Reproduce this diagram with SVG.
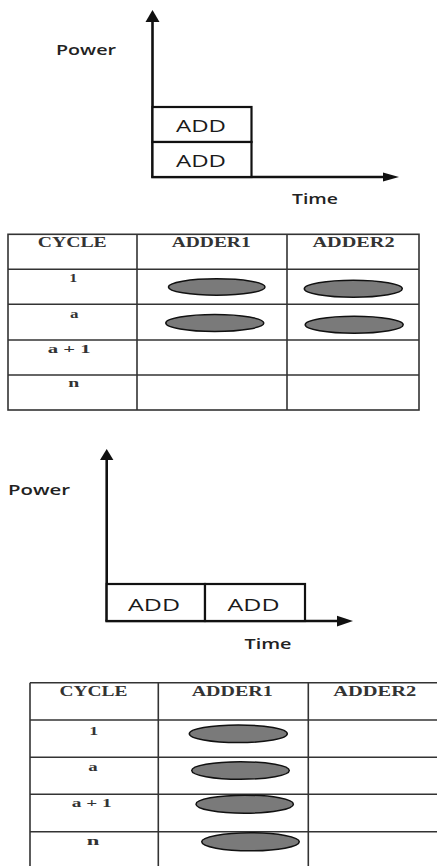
<svg xmlns="http://www.w3.org/2000/svg" width="437" height="866" viewBox="0 0 437 866">
<style>
.ax{stroke:#111;stroke-width:2.6;fill:none}
.bx{stroke:#111;stroke-width:2.2;fill:#fff}
.lbl{font-family:"Open Sans","Liberation Sans",sans-serif;font-weight:600;fill:#222;text-anchor:middle}
.add{font-family:"Open Sans","Liberation Sans",sans-serif;font-weight:500;font-size:15.5px;fill:#1a1a1a;text-anchor:middle}
.grid{stroke:#333;stroke-width:1.6;fill:none}
.th{font-family:"Liberation Serif","Times New Roman",serif;font-weight:bold;font-size:14px;fill:#333;text-anchor:middle}
.td{font-family:"Liberation Serif","Times New Roman",serif;font-weight:bold;font-size:13.5px;fill:#333;text-anchor:middle}
.ov{fill:#7a7a7a;stroke:#111;stroke-width:1.5}
.ah{fill:#111}
</style>

<!-- Chart 1 -->
<g id="chart1">
  <g id="chart1-axes">
    <line class="ax" x1="152.5" y1="20" x2="152.5" y2="177"/>
    <line class="ax" x1="151.2" y1="177" x2="384" y2="177"/>
    <polygon class="ah" points="152.5,10 145.5,22 159.5,22"/>
    <polygon class="ah" points="399,177 383,172.5 383,181.5"/>
  </g>
  <g id="chart1-add-top">
    <rect class="bx" x="152.5" y="107" width="99" height="35"/>
    <text class="add" x="201" y="132" textLength="50" lengthAdjust="spacingAndGlyphs">ADD</text>
  </g>
  <g id="chart1-add-bottom">
    <rect class="bx" x="152.5" y="142" width="99" height="35"/>
    <text class="add" x="201" y="167" textLength="50" lengthAdjust="spacingAndGlyphs">ADD</text>
  </g>
  <text class="lbl" x="86" y="55" font-size="13.5" textLength="60" lengthAdjust="spacingAndGlyphs">Power</text>
  <text class="lbl" x="315" y="204" font-size="13.5" textLength="46" lengthAdjust="spacingAndGlyphs">Time</text>
</g>

<!-- Table 1 -->
<g id="table1">
  <g id="table1-grid">
    <rect class="grid" x="8" y="234.3" width="411" height="175.7"/>
    <line class="grid" x1="137" y1="234.3" x2="137" y2="410"/>
    <line class="grid" x1="287" y1="234.3" x2="287" y2="410"/>
    <line class="grid" x1="8" y1="269.3" x2="419" y2="269.3"/>
    <line class="grid" x1="8" y1="304.3" x2="419" y2="304.3"/>
    <line class="grid" x1="8" y1="340" x2="419" y2="340"/>
    <line class="grid" x1="8" y1="375" x2="419" y2="375"/>
  </g>
  <text class="th" x="72.2" y="247" textLength="69" lengthAdjust="spacingAndGlyphs">CYCLE</text>
  <text class="th" x="211.2" y="247" textLength="79" lengthAdjust="spacingAndGlyphs">ADDER1</text>
  <text class="th" x="353.5" y="247" textLength="82" lengthAdjust="spacingAndGlyphs">ADDER2</text>
  <text class="td" x="73.3" y="282" textLength="8" lengthAdjust="spacingAndGlyphs">1</text>
  <text class="td" x="74.2" y="317.5" textLength="8.5" lengthAdjust="spacingAndGlyphs">a</text>
  <text class="td" x="69.2" y="352.7" textLength="43" lengthAdjust="spacingAndGlyphs">a + 1</text>
  <text class="td" x="73.8" y="387" textLength="11" lengthAdjust="spacingAndGlyphs">n</text>
  <g id="t1-r1-a1"><ellipse class="ov" cx="216.7" cy="287" rx="48.3" ry="8.2"/></g>
  <g id="t1-r1-a2"><ellipse class="ov" cx="353.3" cy="288.7" rx="49" ry="8.5"/></g>
  <g id="t1-r2-a1"><ellipse class="ov" cx="214.8" cy="323" rx="49" ry="8.5"/></g>
  <g id="t1-r2-a2"><ellipse class="ov" cx="354.2" cy="324.7" rx="49" ry="8.5"/></g>
</g>

<!-- Chart 2 -->
<g id="chart2">
  <g id="chart2-axes">
    <line class="ax" x1="106.7" y1="458" x2="106.7" y2="621"/>
    <line class="ax" x1="105.4" y1="621" x2="338" y2="621"/>
    <polygon class="ah" points="106.7,449 100,460 113.4,460"/>
    <polygon class="ah" points="353,621 337,615.8 337,626.5"/>
  </g>
  <g id="chart2-add-first">
    <rect class="bx" x="106.7" y="584" width="98.3" height="37"/>
    <text class="add" x="154" y="610.7" textLength="52" lengthAdjust="spacingAndGlyphs">ADD</text>
  </g>
  <g id="chart2-add-second">
    <rect class="bx" x="205" y="584" width="100" height="37"/>
    <text class="add" x="253.5" y="610.7" textLength="52" lengthAdjust="spacingAndGlyphs">ADD</text>
  </g>
  <text class="lbl" x="39" y="495" font-size="13.5" textLength="62" lengthAdjust="spacingAndGlyphs">Power</text>
  <text class="lbl" x="268" y="649" font-size="13.5" textLength="47" lengthAdjust="spacingAndGlyphs">Time</text>
</g>

<!-- Table 2 -->
<g id="table2">
  <g id="table2-grid">
    <line class="grid" x1="30" y1="682.7" x2="440" y2="682.7"/>
    <line class="grid" x1="30" y1="720" x2="440" y2="720"/>
    <line class="grid" x1="30" y1="757.3" x2="440" y2="757.3"/>
    <line class="grid" x1="30" y1="794.3" x2="440" y2="794.3"/>
    <line class="grid" x1="30" y1="831.7" x2="440" y2="831.7"/>
    <line class="grid" x1="30" y1="682.7" x2="30" y2="870"/>
    <line class="grid" x1="158.3" y1="682.7" x2="158.3" y2="870"/>
    <line class="grid" x1="308.3" y1="682.7" x2="308.3" y2="870"/>
  </g>
  <text class="th" x="93.5" y="696" textLength="68" lengthAdjust="spacingAndGlyphs">CYCLE</text>
  <text class="th" x="232.2" y="696" textLength="81" lengthAdjust="spacingAndGlyphs">ADDER1</text>
  <text class="th" x="374.7" y="696" textLength="83" lengthAdjust="spacingAndGlyphs">ADDER2</text>
  <text class="td" x="93.8" y="735" textLength="9" lengthAdjust="spacingAndGlyphs">1</text>
  <text class="td" x="93" y="771" textLength="9.4" lengthAdjust="spacingAndGlyphs">a</text>
  <text class="td" x="91.7" y="807.3" textLength="40" lengthAdjust="spacingAndGlyphs">a + 1</text>
  <text class="td" x="93" y="845" textLength="12.6" lengthAdjust="spacingAndGlyphs">n</text>
  <g id="t2-r1-a1"><ellipse class="ov" cx="238.3" cy="733.8" rx="49" ry="8.8"/></g>
  <g id="t2-r2-a1"><ellipse class="ov" cx="240.5" cy="770.5" rx="48.8" ry="8.8"/></g>
  <g id="t2-r3-a1"><ellipse class="ov" cx="244.7" cy="804.2" rx="48.7" ry="9"/></g>
  <g id="t2-r4-a1"><ellipse class="ov" cx="250.5" cy="841.8" rx="48.8" ry="9"/></g>
</g>
</svg>
